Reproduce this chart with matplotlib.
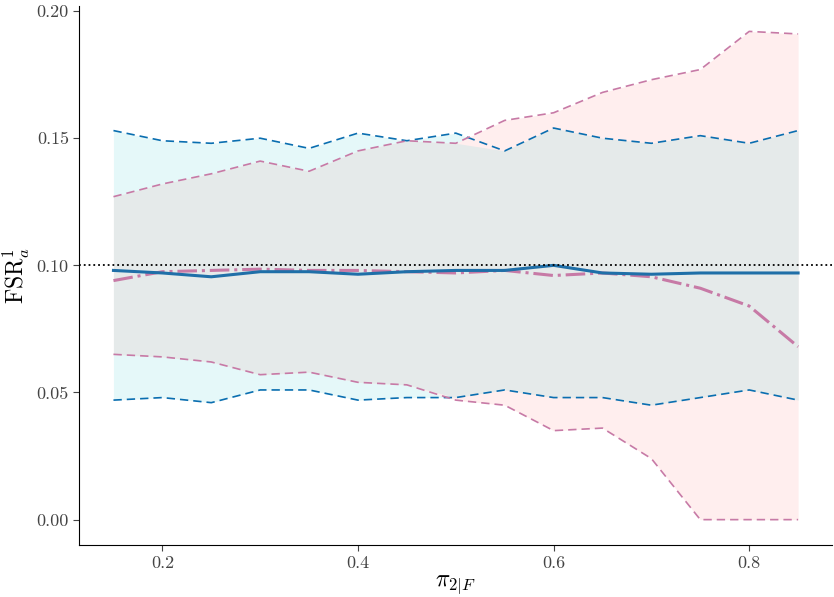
import numpy as np
import matplotlib
matplotlib.use("Agg")
import matplotlib.pyplot as plt

plt.rcParams['font.family'] = 'serif'
plt.rcParams['font.serif'] = ['cmr10']
plt.rcParams['mathtext.fontset'] = 'cm'
plt.rcParams['axes.formatter.use_mathtext'] = True

pi = [0.15, 0.2, 0.25, 0.3, 0.35, 0.4, 0.45, 0.5, 0.55, 0.6, 0.65, 0.7, 0.75, 0.8, 0.85]
blue_hi = [0.153, 0.149, 0.148, 0.150, 0.146, 0.152, 0.149, 0.152, 0.145, 0.154, 0.150, 0.148, 0.151, 0.148, 0.153]
blue_lo = [0.047, 0.048, 0.046, 0.051, 0.051, 0.047, 0.048, 0.048, 0.051, 0.048, 0.048, 0.045, 0.048, 0.051, 0.047]
blue_mid = [0.098, 0.097, 0.0955, 0.0975, 0.0975, 0.0965, 0.0975, 0.098, 0.098, 0.100, 0.097, 0.0965, 0.097, 0.097, 0.097]
pink_hi = [0.127, 0.132, 0.136, 0.141, 0.137, 0.145, 0.149, 0.148, 0.157, 0.160, 0.168, 0.173, 0.177, 0.192, 0.191]
pink_lo = [0.065, 0.064, 0.062, 0.057, 0.058, 0.054, 0.053, 0.047, 0.045, 0.035, 0.036, 0.024, 0.000, 0.000, 0.000]
pink_mid = [0.094, 0.0975, 0.098, 0.0985, 0.098, 0.098, 0.0975, 0.097, 0.098, 0.096, 0.097, 0.0955, 0.091, 0.084, 0.068]

blue = '#1f6fa8'
pink = '#c77aa6'

fig, ax = plt.subplots(figsize=(8.34, 5.97), dpi=100)
fig.subplots_adjust(left=0.095, right=0.998, bottom=0.087, top=0.99)

ax.fill_between(pi, blue_lo, blue_hi, color='#e5f8f9', lw=0)
ax.fill_between(pi, pink_lo, pink_hi, color='#ffeeee', lw=0)
ov_lo = np.maximum(blue_lo, pink_lo)
ov_hi = np.minimum(blue_hi, pink_hi)
ax.fill_between(pi, ov_lo, ov_hi, where=ov_hi > ov_lo, interpolate=True,
                color='#e5eaea', lw=0)
ax.plot(pi, blue_hi, color='#0a6eb0', lw=1.2, dashes=(5, 3))
ax.plot(pi, blue_lo, color='#0a6eb0', lw=1.2, dashes=(5, 3))
ax.plot(pi, pink_hi, color=pink, lw=1.2, dashes=(5, 3))
ax.plot(pi, pink_lo, color=pink, lw=1.2, dashes=(5, 3))
ax.plot(pi, pink_mid, '-.', color=pink, lw=2.2)
ax.plot(pi, blue_mid, '-', color=blue, lw=2.2)
ax.axhline(0.1, color='black', ls=':', lw=1.3)

ax.set_xlim(0.115, 0.885)
ax.set_ylim(-0.01, 0.202)
ax.set_xticks([0.2, 0.4, 0.6, 0.8])
ax.set_yticks([0.0, 0.05, 0.1, 0.15, 0.2])
ax.set_yticklabels(['0.00', '0.05', '0.10', '0.15', '0.20'])
ax.set_xticklabels(['0.2', '0.4', '0.6', '0.8'])
ax.tick_params(labelsize=13, colors='#444444', length=4)
ax.spines['top'].set_visible(False)
ax.spines['right'].set_visible(False)
ax.set_xlabel(r'$\pi_{2|F}$', fontsize=17, labelpad=2)
ax.set_ylabel(r'$\mathrm{FSR}_a^1$', fontsize=17, labelpad=3)

fig.savefig('out.png')
